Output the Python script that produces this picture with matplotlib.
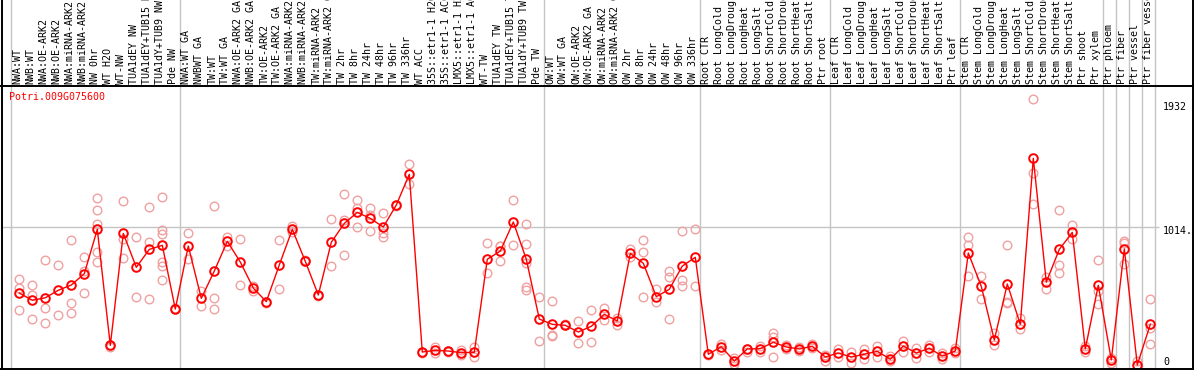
import matplotlib
matplotlib.use("Agg")
import matplotlib.pyplot as plt
from matplotlib.lines import Line2D
from matplotlib.transforms import blended_transform_factory

# sample labels, left to right
labels = [
    "NWA:WT", "NWB:WT", "NWA:OE-ARK2", "NWB:OE-ARK2", "NWA:miRNA-ARK2", "NWB:miRNA-ARK2",
    "NW 0hr", "WT H2O", "WT-NW", "TUA1dEY NW", "TUA1dEY+TUB15 NW", "TUA1dY+TUB9 NW", "Pde NW",
    "NWA:WT GA", "NWBWT GA", "TW:WT", "TW:WT GA", "NWA:OE-ARK2 GA", "NWB:OE-ARK2 GA",
    "TW:OE-ARK2", "TW:OE-ARK2 GA", "NWA:miRNA-ARK2 GA", "NWB:miRNA-ARK2 GA", "TW:miRNA-ARK2",
    "TW:miRNA-ARK2 GA", "TW 2hr", "TW 8hr", "TW 24hr", "TW 48hr", "TW 96hr", "TW 336hr",
    "WT ACC", "35S::etr1-1 H2O", "35S::etr1-1 ACC", "LMX5::etr1-1 H2O", "LMX5::etr1-1 ACC",
    "WT-TW", "TUA1dEY TW", "TUA1dEY+TUB15 TW", "TUA1dY+TUB9 TW", "Pde TW",
    "OW:WT", "OW:WT GA", "OW:OE-ARK2", "OW:OE-ARK2 GA", "OW:miRNA-ARK2", "OW:miRNA-ARK2 GA",
    "OW 2hr", "OW 8hr", "OW 24hr", "OW 48hr", "OW 96hr", "OW 336hr",
    "Root CTR", "Root LongCold", "Root LongDrought", "Root LongHeat", "Root LongSalt",
    "Root ShortCold", "Root ShortDrought", "Root ShortHeat", "Root ShortSalt", "Ptr root",
    "Leaf CTR", "Leaf LongCold", "Leaf LongDrought", "Leaf LongHeat", "Leaf LongSalt",
    "Leaf ShortCold", "Leaf ShortDrought", "Leaf ShortHeat", "Leaf ShortSalt", "Ptr leaf",
    "Stem CTR", "Stem LongCold", "Stem LongDrought", "Stem LongHeat", "Stem LongSalt",
    "Stem ShortCold", "Stem ShortDrought", "Stem ShortHeat", "Stem ShortSalt", "Ptr shoot",
    "Ptr xylem", "Ptr phloem", "Ptr fiber", "Ptr vessel", "Ptr fiber vessel",
]

# mean expression per sample
means = [
    539, 487, 505, 559, 597, 678, 997, 163, 968, 724, 853, 882, 424,
    877, 501, 697, 911, 762, 575, 477, 741, 997, 767, 525, 904, 1040, 1119, 1076, 1014,
    1172, 1393, 115, 127, 122, 110, 113, 782, 841, 1050, 782, 352,
    314, 307, 259, 300, 386, 338, 824, 753, 513, 566, 733, 796,
    99, 153, 50, 137, 139, 185, 151, 137, 156, 79,
    108, 79, 99, 120, 63, 158, 108, 142, 86, 122,
    827, 587, 201, 604, 314, 1508, 618, 853, 975, 137,
    595, 58, 856, 22, 314,
]

# individual replicates per sample
reps = [
    [638, 577, 417], [597, 527, 352], [774, 429, 324], [738, 379], [918, 465, 393],
    [796, 537, 700], [1220, 1134, 1035, 832, 760], [163, 149], [1199, 925, 789],
    [942, 508], [1158, 904, 494], [1229, 992, 961, 760, 733, 631], [424, 430],
    [968, 782], [554, 444], [1163, 501, 422], [940, 879], [928, 595], [590, 554],
    [477, 470], [920, 566], [1021, 980], [767, 775], [525, 520], [1071, 733],
    [1249, 1064, 810], [1208, 1148, 1014], [1148, 1100, 983], [1112, 973, 944],
    [1172, 1165], [1465, 1321], [115, 110], [151, 108], [122, 118], [93, 129],
    [149, 77], [897, 683], [879, 767, 877], [1208, 884], [1033, 892, 753, 580, 561],
    [508, 194], [482, 237, 230], [307, 314], [338, 180], [417, 185], [429, 347],
    [362, 309], [858, 800], [918, 832, 508], [566, 472], [695, 652, 352],
    [983, 631, 587], [997, 587],
    [99, 95], [173, 129], [70, 27], [137, 113], [160, 113], [250, 226, 79],
    [165, 134], [153, 124], [173, 142], [93, 50],
    [137, 81], [117, 38], [134, 67], [158, 81], [88, 50], [196, 117], [142, 70],
    [168, 117], [106, 67], [142, 106],
    [942, 882, 661], [661, 494], [250, 165], [882, 475, 465], [357, 283],
    [1932, 1400, 1177], [656, 570], [1137, 741, 681], [1028, 928], [160, 117],
    [774, 551, 458], [70, 38], [915, 897, 748], [52], [496, 285, 173],
]

# first sample of each group (grey separators)
group_starts = [0, 13, 41, 53, 63, 73, 84, 85, 86, 87, 88]
gene = "Potri.009G075600"
y_marks = [("1932", 1932, 8), ("1014.", 1014, 4.5), ("0", 0, -6)]

W, H = 1194, 370
fig = plt.figure(figsize=(W / 100, H / 100), dpi=100)
mono = "DejaVu Sans Mono"

# plot area: pixel rows 86..368, column i at x = 19.3 + 13 i
top_px, bot_px = 86, 368
ax = fig.add_axes([2 / W, (H - bot_px) / H, (1192 - 2) / W, (bot_px - top_px) / H])
x0 = (2 - 19.3) / 13
x1 = (1192 - 19.3) / 13
ax.set_xlim(x0, x1)
ax.set_ylim(0, 2028)
ax.axis("off")

xs = list(range(len(means)))

# separators run the full height (header too)
ymax = bot_px / (bot_px - top_px)
for g in group_starts:
    ax.axvline(g - 0.62, ymin=0, ymax=ymax, color="#c4c4c4", lw=1.0, clip_on=False, zorder=1)
ax.hlines(1014, x0, 87.7, color="#c4c4c4", lw=1.0, zorder=1)

for i, r in enumerate(reps):
    ax.plot([i] * len(r), r, "o", ms=6.2, mfc="none", mec="#f0a0a0", mew=1.0, zorder=2)
ax.plot(xs, means, "-", color="#ff0000", lw=1.0, zorder=3)
ax.plot(xs, means, "o", ms=6.2, mfc="none", mec="#ff0000", mew=1.4, zorder=4)

ax.annotate(gene, xy=(0, 1), xycoords="axes fraction", xytext=(7.5, -11),
            textcoords="offset pixels", color="#ff0000", fontsize=7.2, family=mono,
            ha="left", va="center")

for txt, v, off in y_marks:
    ax.annotate(txt, xy=(87.98, v), xytext=(0, -off), textcoords="offset pixels",
                fontsize=7.2, family=mono, ha="left", va="center", color="black")

# rotated header labels (long ones run off the top, as in the original)
tr = blended_transform_factory(ax.transData, fig.transFigure)
for i, lab in enumerate(labels):
    ax.text(i - 0.15, (H - 83.5) / H, lab, transform=tr, rotation=90, ha="center",
            va="bottom", fontsize=7.2, family=mono, color="black", clip_on=False)

# frame
def hline(y):
    fig.add_artist(Line2D([0, 1], [1 - y / H, 1 - y / H], color="black", lw=1.4))

def vline(x):
    fig.add_artist(Line2D([x / W, x / W], [0, 1], color="black", lw=1.4))

hline(85.5)
hline(368.8)
vline(1.5)
vline(1192.5)

fig.savefig("out.png", dpi=100)
